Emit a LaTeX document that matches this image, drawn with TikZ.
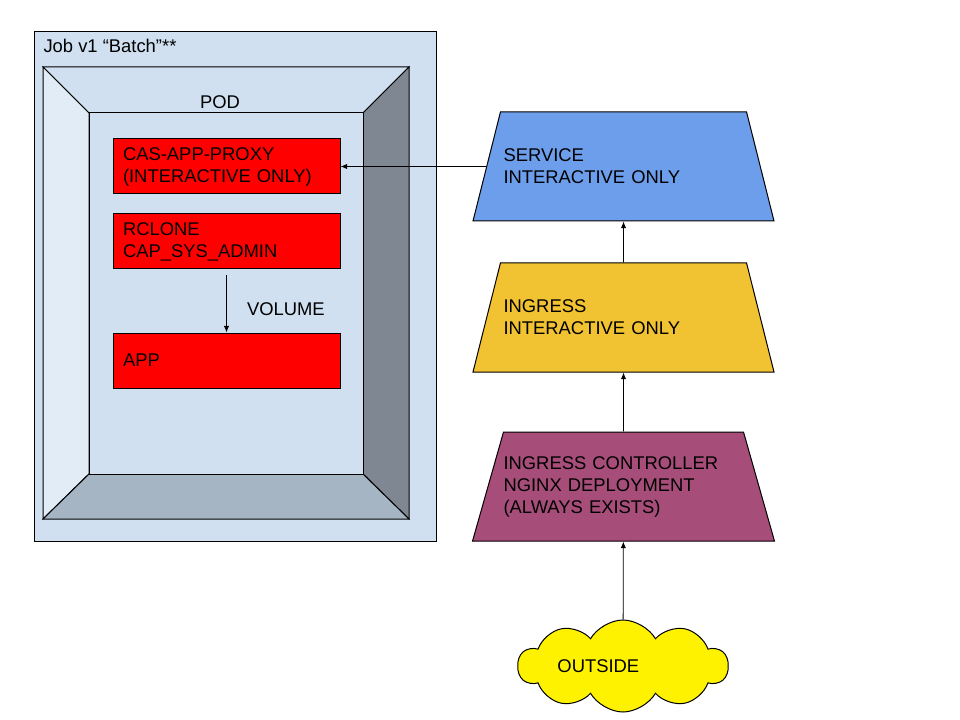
\documentclass[tikz,border=0pt]{standalone}
\usepackage{fontspec}
\setmainfont{Liberation Sans}
\usetikzlibrary{shapes.geometric,shapes.symbols,arrows.meta,positioning,calc}
\definecolor{jobblue}{RGB}{208,224,241}
\definecolor{bevellight}{RGB}{226,236,247}
\definecolor{beveldark}{RGB}{127,136,146}
\definecolor{bevelmid}{RGB}{166,181,196}
\definecolor{svcblue}{RGB}{109,158,235}
\definecolor{ingyellow}{RGB}{241,194,50}
\definecolor{ctrlpurple}{RGB}{166,77,121}

\begin{document}
\begin{tikzpicture}[
        x=0.75pt, y=-0.75pt,
        font=\fontsize{13.8}{16.5}\selectfont,
        line width=0.75pt,
        arr/.style={-{Latex[length=5pt,width=4pt]}, line width=0.6pt},
        container/.style={rectangle, draw, fill=red, minimum width=170.25pt, minimum height=41.25pt, text width=155.25pt, inner xsep=7.5pt, align=left},
        layer/.style={trapezium, trapezium stretches body=true, trapezium left angle=58, trapezium right angle=58, draw, fill=#1, minimum width=225.75pt, minimum height=81.75pt, text width=180pt, inner xsep=0pt, align=left},
    ]
    \useasboundingbox (0,0) rectangle (960,720);

    % job and pod frame
    \draw[fill=jobblue] (34,32) rectangle (436,541);
    \node[anchor=west, inner sep=0pt] (job) at (43,46) {Job v1 “Batch”**};
    \draw[fill=jobblue] (43,67) -- (409,67) -- (363,113) -- (89,113) -- cycle;
    \draw[fill=bevellight] (43,67) -- (89,113) -- (89,474) -- (43,519) -- cycle;
    \draw[fill=beveldark] (409,67) -- (409,519) -- (363,474) -- (363,113) -- cycle;
    \draw[fill=bevelmid] (43,519) -- (409,519) -- (363,474) -- (89,474) -- cycle;
    \draw[fill=jobblue] (89,113) rectangle (363,474);
    \node (pod) at (220,102) {POD};

    % containers
    \node[container] (cas) at (226.5,166.5) {CAS-APP-PROXY\\(INTERACTIVE ONLY)};
    \node[container, below=14.25pt of cas] (rclone) {RCLONE\\CAP\_SYS\_ADMIN};
    \node[container, below=47.25pt of rclone] (app) {APP};
    \draw[arr] ([yshift=-4.5pt]rclone.south) -- coordinate (vol) (app.north);
    \node[anchor=west, inner sep=0pt] at ([xshift=15pt,yshift=-3.5pt]vol) {VOLUME};

    % traffic path
    \node[layer=svcblue] (service) at (623.5,166.5) {SERVICE\\INTERACTIVE ONLY};
    \node[layer=ingyellow] (ingress) at (623.5,317.5) {INGRESS\\INTERACTIVE ONLY};
    \node[layer=ctrlpurple, trapezium left angle=66, trapezium right angle=66] (ctrl) at (623.5,486.5) {INGRESS CONTROLLER\\NGINX DEPLOYMENT\\(ALWAYS EXISTS)};
    \node[cloud, cloud puffs=10, cloud puff arc=120, cloud ignores aspect, draw, fill=yellow, minimum width=157.5pt, minimum height=69pt] (outside) at (623,666) {OUTSIDE\hspace*{37pt}};

    \draw[arr] (outside) -- (ctrl);
    \draw[arr] (ctrl) -- (ingress);
    \draw[arr] (ingress) -- (service);
    \draw[arr] (service) -- (cas);
\end{tikzpicture}
\end{document}
